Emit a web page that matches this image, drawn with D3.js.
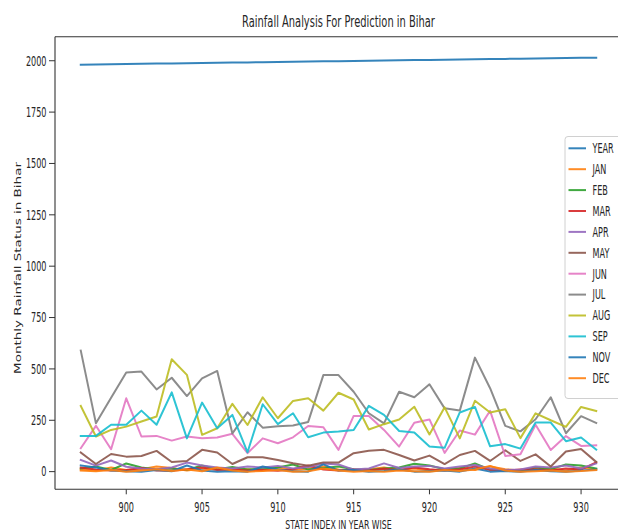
<!DOCTYPE html>
<html>
<head>
<meta charset="utf-8">
<script src="https://cdn.jsdelivr.net/npm/d3@7"></script>
<style>
  html, body { margin: 0; padding: 0; background: #fff; }
  svg { display: block; }
  text { font-family: "DejaVu Sans", sans-serif; fill: #262626; }
</style>
</head>
<body>
<svg id="chart" width="618" height="532"></svg>
<script>
// State index (row numbers for Bihar) on the x axis
const stateIndex = d3.range(897, 932);

// Monthly rainfall (mm) per row, plus the YEAR column
const YEAR = d3.range(1981, 2016);
const JAN = [10, 5, 20, 8, 12, 25, 18, 5, 15, 10, 8, 12, 5, 20, 8, 15, 25, 10, 5, 12, 20, 8, 15, 5, 10, 18, 8, 25, 12, 5, 10, 15, 5, 20, 12];
const FEB = [15, 25, 8, 40, 20, 10, 15, 8, 30, 12, 22, 10, 15, 20, 35, 10, 18, 25, 12, 8, 15, 20, 38, 30, 12, 15, 40, 10, 6, 5, 20, 12, 35, 30, 15];
const MAR = [20, 10, 5, 8, 18, 6, 4, 12, 20, 8, 10, 5, 8, 4, 12, 30, 10, 6, 10, 5, 14, 8, 20, 12, 6, 10, 25, 8, 5, 10, 12, 5, 15, 10, 45];
const APR = [57, 29, 54, 24, 15, 12, 20, 44, 30, 20, 15, 25, 20, 28, 15, 22, 40, 35, 10, 15, 40, 18, 25, 28, 15, 25, 32, 15, 8, 10, 25, 20, 30, 15, 40];
const MAY = [93, 37, 86, 73, 76, 101, 47, 52, 106, 93, 37, 70, 70, 57, 41, 29, 45, 44, 90, 102, 106, 81, 54, 78, 37, 81, 101, 52, 104, 52, 84, 25, 98, 110, 47];
const JUN = [114, 223, 109, 357, 171, 174, 151, 171, 162, 166, 184, 90, 162, 138, 167, 222, 216, 106, 271, 271, 203, 122, 238, 254, 91, 200, 180, 296, 76, 85, 228, 105, 173, 125, 128];
const JUL = [589, 235, 360, 483, 487, 400, 457, 368, 454, 490, 186, 289, 214, 221, 225, 242, 470, 470, 389, 284, 235, 389, 362, 425, 308, 297, 555, 406, 223, 196, 255, 362, 187, 270, 237];
const AUG = [320, 171, 203, 219, 244, 268, 547, 471, 179, 211, 330, 227, 362, 260, 344, 357, 297, 384, 351, 205, 231, 254, 316, 181, 313, 162, 345, 288, 304, 163, 284, 250, 218, 315, 295];
const SEP = [174, 174, 228, 228, 297, 228, 386, 162, 336, 211, 276, 94, 328, 231, 284, 167, 190, 195, 203, 320, 276, 198, 190, 122, 116, 288, 315, 123, 134, 112, 239, 239, 148, 166, 107];
const NOV = [30, 20, 5, 2, 0, 8, 2, 30, 5, 0, 2, 0, 25, 10, 2, 0, 35, 5, 8, 0, 3, 10, 0, 2, 5, 0, 15, 0, 3, 0, 8, 2, 0, 5, 10];
const DEC = [5, 2, 8, 0, 5, 12, 3, 10, 2, 20, 5, 0, 3, 8, 0, 2, 15, 5, 0, 3, 0, 5, 2, 0, 8, 3, 10, 28, 5, 0, 2, 5, 0, 3, 8];

const seriesNames = ["YEAR", "JAN", "FEB", "MAR", "APR", "MAY", "JUN", "JUL", "AUG", "SEP", "NOV", "DEC"];
const seriesValues = [YEAR, JAN, FEB, MAR, APR, MAY, JUN, JUL, AUG, SEP, NOV, DEC];

const xTicks = [900, 905, 910, 915, 920, 925, 930];
const yTicks = [0, 250, 500, 750, 1000, 1250, 1500, 1750, 2000];

const titleText = "Rainfall Analysis For Prediction in Bihar";
const xLabel = "STATE INDEX IN YEAR WISE";
const yLabel = "Monthly Rainfall Status in Bihar";

// Colour cycle (matplotlib tab10)
const palette = ["#1f77b4", "#ff7f0e", "#2ca02c", "#d62728", "#9467bd", "#8c564b",
                 "#e377c2", "#7f7f7f", "#bcbd22", "#17becf"];

// Layout
const plot = { left: 55, right: 622, top: 36.7, bottom: 489.3 };
const squeeze = 0.6;      // horizontal text compression of the figure
const fontSize = 13.5;

const svg = d3.select("#chart");

const x = d3.scaleLinear().domain([895.3, 932.7]).range([plot.left, plot.right]);
const y = d3.scaleLinear().domain([-86, 2117]).range([plot.bottom, plot.top]);

// Series lines
const line = d3.line()
  .x((d, i) => x(stateIndex[i]))
  .y(d => y(d));

const lines = svg.append("g");
seriesValues.forEach((vals, k) => {
  lines.append("path")
    .datum(vals)
    .attr("d", line)
    .attr("fill", "none")
    .attr("stroke", palette[k % palette.length])
    .attr("stroke-width", 2)
    .attr("stroke-opacity", 0.9)
    .attr("stroke-linejoin", "round")
    .attr("stroke-linecap", "square");
});

// Spines
const spines = svg.append("g").attr("stroke", "#333").attr("stroke-width", 1.1);
spines.append("line").attr("x1", plot.left).attr("x2", plot.left)
  .attr("y1", plot.top).attr("y2", plot.bottom);
spines.append("line").attr("x1", plot.left).attr("x2", 618)
  .attr("y1", plot.bottom).attr("y2", plot.bottom);
spines.append("line").attr("x1", plot.left).attr("x2", 618)
  .attr("y1", plot.top).attr("y2", plot.top);

// Y axis ticks and labels
const yAxis = svg.append("g");
yTicks.forEach(t => {
  yAxis.append("line")
    .attr("x1", plot.left - 6).attr("x2", plot.left)
    .attr("y1", y(t)).attr("y2", y(t))
    .attr("stroke", "#333").attr("stroke-width", 1);
  yAxis.append("text")
    .attr("transform", `translate(${plot.left - 8.5},${y(t) + 4.8}) scale(${squeeze},1)`)
    .attr("text-anchor", "end")
    .attr("font-size", fontSize)
    .text(t);
});

// X axis ticks and labels
const xAxis = svg.append("g");
xTicks.forEach(t => {
  xAxis.append("line")
    .attr("x1", x(t)).attr("x2", x(t))
    .attr("y1", plot.bottom).attr("y2", plot.bottom + 5)
    .attr("stroke", "#333").attr("stroke-width", 1);
  xAxis.append("text")
    .attr("transform", `translate(${x(t)},${plot.bottom + 23}) scale(${squeeze},1)`)
    .attr("text-anchor", "middle")
    .attr("font-size", fontSize)
    .text(t);
});

// Axis titles
svg.append("text")
  .attr("transform", `translate(${(plot.left + 618) / 2 + 2},528.5) scale(${squeeze},1)`)
  .attr("text-anchor", "middle")
  .attr("font-size", 13)
  .text(xLabel);

svg.append("text")
  .attr("transform", `translate(18,268) scale(${squeeze},1) rotate(-90)`)
  .attr("text-anchor", "middle")
  .attr("dy", "0.35em")
  .attr("font-size", fontSize)
  .text(yLabel);

// Chart title
svg.append("text")
  .attr("transform", `translate(338.5,27) scale(${squeeze},1)`)
  .attr("text-anchor", "middle")
  .attr("font-size", 16.5)
  .text(titleText);

// Legend
const legend = svg.append("g");
const lgTop = 148.3, lgStep = 20.9;
legend.append("rect")
  .attr("x", 565).attr("y", 136.5)
  .attr("width", 80).attr("height", 262)
  .attr("rx", 3)
  .attr("fill", "#fff").attr("fill-opacity", 0.8)
  .attr("stroke", "#d0d0d0").attr("stroke-width", 1);
seriesNames.forEach((name, k) => {
  const ly = lgTop + k * lgStep;
  legend.append("line")
    .attr("x1", 568.5).attr("x2", 586)
    .attr("y1", ly).attr("y2", ly)
    .attr("stroke", palette[k % palette.length])
    .attr("stroke-width", 2)
    .attr("stroke-opacity", 0.9);
  legend.append("text")
    .attr("transform", `translate(592.5,${ly + 4.8}) scale(${squeeze},1)`)
    .attr("font-size", fontSize)
    .text(name);
});
</script>
</body>
</html>
